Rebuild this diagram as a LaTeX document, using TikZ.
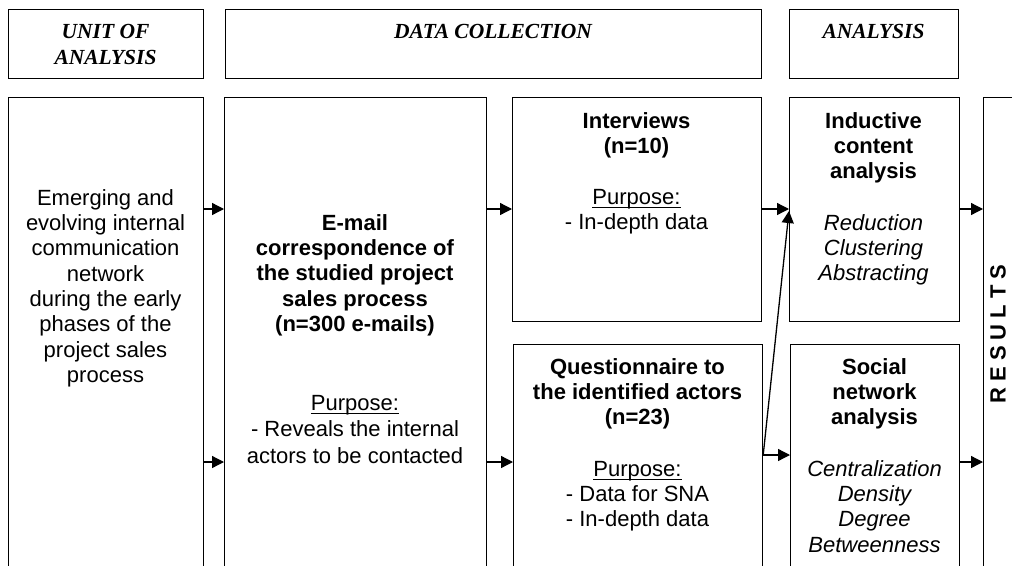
\documentclass[tikz,border=0pt]{standalone}
\usepackage{fontspec}
\setmainfont{Liberation Sans}
\newfontfamily\headfont{Liberation Serif}
\usetikzlibrary{arrows.meta}
% underline drawn a little below the baseline
\newcommand\undl[1]{\leavevmode\setbox0\hbox{#1}\rlap{\rule[-4.2pt]{\wd0}{1.2pt}}\box0}
\newcommand\bodysize{\fontsize{22}{25.3}\selectfont}
\begin{document}
\begin{tikzpicture}[x=1pt,y=-1pt,
  box/.style={draw, line width=1.2pt, rectangle, inner sep=0pt, anchor=north west},
  body/.style={font=\bodysize, align=center, inner sep=0pt, anchor=north},
  head/.style={font=\headfont\bfseries\itshape\fontsize{21.5}{26}\selectfont, align=center, inner sep=0pt, anchor=north},
  link/.style={line width=1.3pt, -{Triangle[length=12pt,width=12pt]}}]
\useasboundingbox (0,0) rectangle (1012,565);
\clip (0,0) rectangle (1012,565);

% header row
\node[box, minimum width=195pt, minimum height=69pt] (hunit) at (8,9) {};
\node[box, minimum width=536pt, minimum height=69pt] (hdata) at (225,9) {};
\node[box, minimum width=169pt, minimum height=69pt] (hanal) at (789,9) {};
\node[head] (hunitT) at (105.5,19.8) {\strut UNIT OF\\ANALYSIS};
\node[head] (hdataT) at (493,19.8) {\strut DATA COLLECTION};
\node[head] (hanalT) at (873.5,19.8) {\strut ANALYSIS};

% main boxes (running off the lower edge)
\node[box, minimum width=195pt, minimum height=540pt] (unit) at (8,97) {};
\node[box, minimum width=262pt, minimum height=540pt] (email) at (224,97) {};
\node[box, minimum width=249pt, minimum height=224pt] (intv) at (512,97) {};
\node[box, minimum width=249pt, minimum height=300pt] (quest) at (513,344) {};
\node[box, minimum width=170pt, minimum height=224pt] (induct) at (789,97) {};
\node[box, minimum width=169pt, minimum height=300pt] (sna) at (790,344) {};
\node[box, minimum width=100pt, minimum height=540pt] (res) at (983,97) {};

% box texts
\node[body] (unitT) at (105.5,187.3) {\strut Emerging and\\evolving internal\\communication\\network\\during the early\\phases of the\\project sales\\process};
\node[body, font=\bodysize\bfseries] (emailT) at (355,212.3) {\strut E-mail\\correspondence of\\the studied project\\sales process\\(n=300 e-mails)};
\node[body, font=\fontsize{22}{26.5}\selectfont] (emailP) at (355,391.5) {\strut\undl{Purpose:}\\- Reveals the internal\\actors to be contacted};
\node[body, font=\bodysize\bfseries] (intvT) at (636.5,110.3) {\strut Interviews\\(n=10)};
\node[body] (intvP) at (636.5,186.3) {\strut\undl{Purpose:}\\- In-depth data};
\node[body, font=\bodysize\bfseries] (questT) at (637.5,356.3) {\strut Questionnaire to\\the identified actors\\(n=23)};
\node[body] (questP) at (637.5,458.3) {\strut\undl{Purpose:}\\- Data for SNA\\- In-depth data};
\node[body, font=\bodysize\bfseries] (inductT) at (873.5,110.3) {\strut Inductive\\content\\analysis};
\node[body, font=\bodysize\itshape] (inductI) at (873.5,212.3) {\strut Reduction\\Clustering\\Abstracting};
\node[body, font=\bodysize\bfseries] (snaT) at (874.5,356.3) {\strut Social\\network\\analysis};
\node[body, font=\bodysize\itshape] (snaI) at (874.5,458.3) {\strut Centralization\\Density\\Degree\\Betweenness};
\node[font=\bodysize\bfseries, rotate=90, inner sep=0pt] (resT) at (998,334) {R E S U L T S};

% connectors
\draw[link] (unit.east |- 0,209) -- (email.west |- 0,209);
\draw[link] (unit.east |- 0,462) -- (email.west |- 0,462);
\draw[link] (email.east |- 0,209) -- (intv.west |- 0,209);
\draw[link] (email.east |- 0,462) -- (quest.west |- 0,462);
\draw[link] (intv.east |- 0,209) -- (induct.west |- 0,209);
\coordinate (qout) at (quest.east |- 0,455);
\draw[link] (qout) -- (sna.west |- 0,455);
\draw[link] (qout) -- (induct.west |- 0,211);
\draw[link] (induct.east |- 0,209) -- (res.west |- 0,209);
\draw[link] (sna.east |- 0,462) -- (res.west |- 0,462);
\end{tikzpicture}
\end{document}
